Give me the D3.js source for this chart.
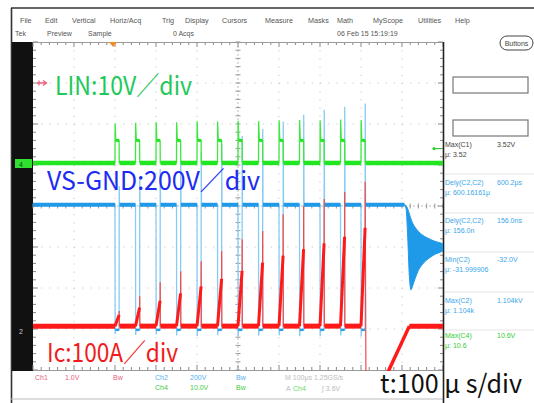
<!DOCTYPE html>
<html><head><meta charset="utf-8">
<script src="https://cdn.jsdelivr.net/npm/d3@7"></script>
<style>body{margin:0;background:#fff}svg{display:block}</style>
</head><body>
<svg id="c" width="534" height="403"></svg>
<script>
// ---------------- data ----------------
const pulseStart = [200,250,300,350,400,450,500,550,600,650,700,750,800]; // µs
const pulseWidth = 10; // µs
const linLevel = 5.5;  // V
const linSpike = [9.6,9.8,10.0,9.9,10.2,10.1,10.3,10.2,10.4,10.5,10.4,10.6,10.5]; // V
const vsBus = 610; // V
const vsLow = [-20,-25,-22,-28,-30,-26,-32,-29,-27,-31,-30,-28,-32]; // V
const vsPeak = [700,745,785,825,865,905,945,980,1015,1049,1073,1088,1104]; // V
const icRampEnd = [27,45,62,80,97,115,135,155,172,188,202,218,240]; // A
const icSpike = [37,73,107,134,158,183,212,232,273,293,310,327,352]; // A
const icTailT = [812,862,918,1000];
const icTailV = [-120,-120,0,0];
const ringT  = [906,910,914,918,922,926,932,940,950,960,970,980,990,1000];
const ringHi = [610,605,590,565,540,520,500,480,462,450,440,432,426,420];
const ringLo = [610,590,450,260,195,215,250,290,320,340,355,368,376,384];
const timeTicks = [0,100,200,300,400,500,600,700,800,900,1000];
const divTicks = [-4,-3,-2,-1,0,1,2,3,4];
const menuItems = ["File","Edit","Vertical","Horiz/Acq","Trig","Display","Cursors","Measure","Masks","Math","MyScope","Utilities","Help"];
const menuX = [20,45,72,110,162,185,222,265,308,337,373,418,455];
const meas = [
  {name:"Max(C1)", val:"3.52V", mu:"μ: 3.52", col:"#444"},
  {name:"Dely(C2,C2)", val:"600.2μs", mu:"μ: 600.16161μ", col:"#3aa6e8"},
  {name:"Dely(C2,C2)", val:"156.0ns", mu:"μ: 156.0n", col:"#3aa6e8"},
  {name:"Min(C2)", val:"-32.0V", mu:"μ: -31.999906", col:"#3aa6e8"},
  {name:"Max(C2)", val:"1.104kV", mu:"μ: 1.104k", col:"#3aa6e8"},
  {name:"Max(C4)", val:"10.6V", mu:"μ: 10.6", col:"#33cc33"}
];
const measY = [147,185,223,262,303,338];

// ---------------- scales ----------------
const svg = d3.select("#c");
const x = d3.scaleLinear().domain([0,1000]).range([33,443]);
const yDiv = d3.scaleLinear().domain([-4,4]).range([370,42]);
const offG = 1.05, offB = -3.02, offR = -2.93;
const yG = v => yDiv(offG + v/10);
const yB = v => yDiv(offB + v/200);
const yR = v => yDiv(offR + v/100);
const uiFont = "'Liberation Sans', Arial, sans-serif";

// ---------------- frame / UI ----------------
svg.append("rect").attr("x",0).attr("y",0).attr("width",534).attr("height",403).attr("fill","#fff");
svg.append("line").attr("x1",11).attr("x2",534).attr("y1",8).attr("y2",8).attr("stroke","#333").attr("stroke-width",1.6);
svg.append("line").attr("x1",11.5).attr("x2",11.5).attr("y1",8).attr("y2",403).attr("stroke","#333").attr("stroke-width",1.6);
svg.append("line").attr("x1",11).attr("x2",443).attr("y1",399).attr("y2",399).attr("stroke","#bbb").attr("stroke-width",1);

svg.selectAll("text.menu").data(menuItems).enter().append("text")
  .attr("x",(d,i)=>menuX[i]).attr("y",23).text(d=>d)
  .attr("font-family",uiFont).attr("font-size",7.2).attr("fill","#555");
[["Tek",15],["Preview",47],["Sample",88],["0 Acqs",173],["06 Feb 15 15:19:19",337]].forEach(d=>{
  svg.append("text").attr("x",d[1]).attr("y",36).text(d[0])
   .attr("font-family",uiFont).attr("font-size",7).attr("fill","#555");
});
svg.append("rect").attr("x",500).attr("y",36).attr("width",33).attr("height",14).attr("rx",7)
  .attr("fill","#fff").attr("stroke","#444").attr("stroke-width",1);
svg.append("text").attr("x",516.5).attr("y",46).attr("text-anchor","middle").text("Buttons")
  .attr("font-family",uiFont).attr("font-size",7).attr("fill","#444");

// left black strip
svg.append("rect").attr("x",12).attr("y",42).attr("width",21).attr("height",329).attr("fill","#111");

// ---------------- graticule ----------------
const g = svg.append("g");
const minor = d3.range(0,1000.01,20);
timeTicks.slice(1,-1).forEach(t=>{
  if (t===500) return;
  g.append("line").attr("x1",x(t)).attr("x2",x(t)).attr("y1",42).attr("y2",370)
   .attr("stroke","#c8c8c8").attr("stroke-width",1).attr("stroke-dasharray","1.2,7");
});
divTicks.slice(1,-1).forEach(dv=>{
  if (dv===0) return;
  g.append("line").attr("x1",33).attr("x2",443).attr("y1",yDiv(dv)).attr("y2",yDiv(dv))
   .attr("stroke","#c8c8c8").attr("stroke-width",1).attr("stroke-dasharray","1.2,7");
});
g.append("line").attr("x1",x(500)).attr("x2",x(500)).attr("y1",42).attr("y2",370).attr("stroke","#bbb").attr("stroke-width",1).attr("stroke-dasharray","2,2");
g.append("line").attr("x1",33).attr("x2",443).attr("y1",yDiv(0)).attr("y2",yDiv(0)).attr("stroke","#bbb").attr("stroke-width",1).attr("stroke-dasharray","2,2");
minor.forEach(t=>{
  g.append("line").attr("x1",x(t)).attr("x2",x(t)).attr("y1",yDiv(0)-2.5).attr("y2",yDiv(0)+2.5).attr("stroke","#999");
  g.append("line").attr("x1",x(t)).attr("x2",x(t)).attr("y1",42).attr("y2",t%100===0?47:45).attr("stroke","#888");
  g.append("line").attr("x1",x(t)).attr("x2",x(t)).attr("y1",370).attr("y2",t%100===0?365:367).attr("stroke","#888");
});
d3.range(-4,4.01,0.2).forEach(dv=>{
  const yy = yDiv(dv), maj = Math.abs(dv-Math.round(dv))<1e-6;
  g.append("line").attr("x1",x(500)-2.5).attr("x2",x(500)+2.5).attr("y1",yy).attr("y2",yy).attr("stroke","#999");
  g.append("line").attr("x1",33).attr("x2",maj?38:36).attr("y1",yy).attr("y2",yy).attr("stroke","#888");
  g.append("line").attr("x1",443).attr("x2",maj?438:440).attr("y1",yy).attr("y2",yy).attr("stroke","#888");
});
g.append("line").attr("x1",33).attr("x2",443).attr("y1",42.5).attr("y2",42.5).attr("stroke","#999");
g.append("line").attr("x1",33).attr("x2",443).attr("y1",370.5).attr("y2",370.5).attr("stroke","#999");
svg.append("line").attr("x1",443.5).attr("x2",443.5).attr("y1",42).attr("y2",403).attr("stroke","#222").attr("stroke-width",1.6);
svg.append("path").attr("d",`M${x(195)-4},42 L${x(195)+4},42 L${x(195)},47 Z`).attr("fill","#f08a24");

// ---------------- traces ----------------
svg.append("clipPath").attr("id","plot").append("rect").attr("x",33).attr("y",42).attr("width",410).attr("height",329);
const tr = svg.append("g").attr("clip-path","url(#plot)");
const last = pulseStart.length-1;
const gaps = pulseStart.map((t0,i)=>[i===0?0:pulseStart[i-1]+pulseWidth+1, t0]);
gaps.push([pulseStart[last]+pulseWidth+1, 1000]);

// blue (VS)
let bPts = [[0,vsBus]];
pulseStart.forEach((t0,i)=>{
  bPts.push([t0,vsBus],[t0+0.4,vsLow[i]],[t0+1.2,0],[t0+pulseWidth,0],[t0+pulseWidth+0.3,vsPeak[i]],[t0+pulseWidth+1,vsBus]);
});
bPts.push([ringT[0],vsBus]);
const lineB = d3.line().x(d=>x(d[0])).y(d=>yB(d[1]));
tr.append("path").attr("d",lineB(bPts)).attr("fill","none").attr("stroke","#86ccf3").attr("stroke-width",1.3);
gaps.forEach((gp,i)=>{
  const end = i===gaps.length-1 ? ringT[0] : gp[1];
  tr.append("line").attr("x1",x(gp[0])).attr("x2",x(end)).attr("y1",yB(vsBus)).attr("y2",yB(vsBus))
    .attr("stroke","#1f9ae8").attr("stroke-width",4);
});
pulseStart.forEach((t0,i)=>{
  tr.append("line").attr("x1",x(t0+0.6)).attr("x2",x(t0+pulseWidth)).attr("y1",yB(0)).attr("y2",yB(0))
    .attr("stroke","#2aa0e8").attr("stroke-width",2.5);
});
const ringData = ringT.map((t,i)=>({t, hi:ringHi[i], lo:ringLo[i]}));
tr.append("path").attr("d",d3.area().x(d=>x(d.t)).y0(d=>yB(d.lo)).y1(d=>yB(d.hi)).curve(d3.curveMonotoneX)(ringData))
  .attr("fill","#1f9ae8").attr("stroke","#1f9ae8").attr("stroke-width",1);

// red (Ic)
let rPts = [[0,0]];
pulseStart.forEach((t0,i)=>{
  rPts.push([t0,0],[t0+pulseWidth,icRampEnd[i]],[t0+pulseWidth+0.2,icSpike[i]]);
  if (i<last) rPts.push([t0+pulseWidth+0.6,0]);
});
icTailT.forEach((t,i)=>rPts.push([t,icTailV[i]]));
const lineR = d3.line().x(d=>x(d[0])).y(d=>yR(d[1]));
tr.append("path").attr("d",lineR(rPts)).attr("fill","none").attr("stroke","#f44848").attr("stroke-width",1.2);
gaps.forEach((gp,i)=>{
  const s = i===gaps.length-1 ? icTailT[2] : gp[0];
  tr.append("line").attr("x1",x(s)).attr("x2",x(gp[1])).attr("y1",yR(0)).attr("y2",yR(0))
    .attr("stroke","#ff1a1a").attr("stroke-width",5);
});
pulseStart.forEach((t0,i)=>{
  tr.append("line").attr("x1",x(t0)).attr("x2",x(t0+pulseWidth)).attr("y1",yR(0)).attr("y2",yR(icRampEnd[i]))
    .attr("stroke","#ff1a1a").attr("stroke-width",3);
});
tr.append("line").attr("x1",x(icTailT[1])).attr("x2",x(icTailT[2])).attr("y1",yR(icTailV[1])).attr("y2",yR(icTailV[2]))
  .attr("stroke","#ff1a1a").attr("stroke-width",3.5);

// green (LIN)
let gPts = [[0,0]];
pulseStart.forEach((t0,i)=>{
  gPts.push([t0,0],[t0+0.3,linSpike[i]],[t0+2,linLevel],[t0+pulseWidth,linLevel],[t0+pulseWidth+0.4,0]);
});
gPts.push([1000,0]);
const lineG = d3.line().x(d=>x(d[0])).y(d=>yG(d[1]));
tr.append("path").attr("d",lineG(gPts)).attr("fill","none").attr("stroke","#3ee83e").attr("stroke-width",1.3);
gaps.forEach(gp=>{
  tr.append("line").attr("x1",x(gp[0])).attr("x2",x(gp[1])).attr("y1",yG(0)).attr("y2",yG(0))
    .attr("stroke","#22e622").attr("stroke-width",4.5);
});
pulseStart.forEach(t0=>{
  tr.append("line").attr("x1",x(t0+1.5)).attr("x2",x(t0+pulseWidth)).attr("y1",yG(linLevel)).attr("y2",yG(linLevel))
    .attr("stroke","#22e622").attr("stroke-width",3);
});

// channel markers
svg.append("rect").attr("x",15).attr("y",159).attr("width",17).attr("height",9).attr("fill","#2fe02f");
svg.append("text").attr("x",19).attr("y",166.5).text("4").attr("font-family",uiFont).attr("font-size",7).attr("fill","#143");
svg.append("text").attr("x",19).attr("y",334).text("2").attr("font-family",uiFont).attr("font-size",7).attr("fill","#ccc");
svg.append("path").attr("d","M37,83 L46,83 M43,80.5 L46.5,83 L43,85.5 M39,80.5 L39,85.5").attr("stroke","#f06080").attr("stroke-width",1.3).attr("fill","none");
svg.append("path").attr("d",`M441,${yG(3.5)} L434,${yG(3.5)}`).attr("stroke","#2fcf2f").attr("stroke-width",1.2);
svg.append("circle").attr("cx",434).attr("cy",yG(3.5)).attr("r",1.6).attr("fill","#2fcf2f");

// ---------------- right panel ----------------
svg.append("rect").attr("x",453).attr("y",77).attr("width",75).attr("height",16).attr("fill","#fff").attr("stroke","#777").attr("stroke-width",1.2);
svg.append("rect").attr("x",453).attr("y",120).attr("width",75).attr("height",16).attr("fill","#fff").attr("stroke","#777").attr("stroke-width",1.2);
[174,213,252,292,330].forEach(yy=>{
  svg.append("line").attr("x1",445).attr("x2",534).attr("y1",yy).attr("y2",yy).attr("stroke","#e4e4e4");
});
meas.forEach((m,i)=>{
  const y0 = measY[i];
  svg.append("text").attr("x",445).attr("y",y0).text(m.name).attr("font-family",uiFont).attr("font-size",7).attr("fill",m.col);
  svg.append("text").attr("x",497).attr("y",y0).text(m.val).attr("font-family",uiFont).attr("font-size",7).attr("fill",m.col);
  svg.append("text").attr("x",445).attr("y",y0+10).text(m.mu).attr("font-family",uiFont).attr("font-size",7).attr("fill",m.col);
});

// ---------------- bottom strip ----------------
[["Ch1",35,380,"#e8607a"],["1.0V",65,380,"#e8607a"],["Bw",113,380,"#e8607a"],
 ["Ch2",155,380,"#55b0ee"],["200V",190,380,"#55b0ee"],["Bw",236,380,"#55b0ee"],
 ["Ch4",155,390,"#44cc44"],["10.0V",190,390,"#44cc44"],["Bw",236,390,"#44cc44"],
 ["M 100μs 1.25GS/s",285,380,"#bbb"],["A",286,391,"#bbb"],["Ch4",293,391,"#66dd66"],["∫ 3.6V",322,391,"#bbb"]].forEach(d=>{
  svg.append("text").attr("x",d[1]).attr("y",d[2]).text(d[0]).attr("font-family",uiFont).attr("font-size",7).attr("fill",d[3]);
});

// ---------------- big labels ----------------
const bigFont = "'Noto Sans CJK JP', 'Noto Sans', sans-serif";
function big(txt,x0,y0,w,col){
  svg.append("text").attr("x",x0).attr("y",y0).text(txt).attr("font-family",bigFont)
   .attr("font-size",26).attr("fill",col).attr("textLength",w).attr("lengthAdjust","spacingAndGlyphs");
}
big("LIN:10V／div",55,95,137,"#22c85a");
big("VS-GND:200V／div",47,190,213,"#1d2cf0");
big("Ic:100A／div",47,362,131,"#f01c1c");
big("t:100 μ s/div",380,393,142,"#111");
</script>
</body></html>
